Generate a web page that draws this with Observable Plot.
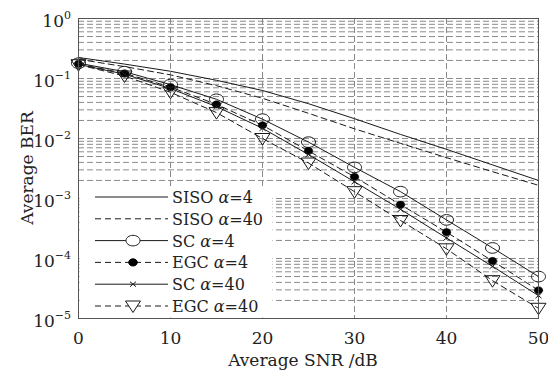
<!DOCTYPE html>
<html>
<head>
<meta charset="utf-8">
<script src="https://cdn.jsdelivr.net/npm/d3@7"></script>
<script src="https://cdn.jsdelivr.net/npm/@observablehq/plot@0.6"></script>
<style>
  html, body { margin: 0; padding: 0; background: #fff; }
  #chart { width: 548px; height: 370px; }
</style>
</head>
<body>
<div id="chart"></div>
<script>
// ---- data ----
const snr = [0, 5, 10, 15, 20, 25, 30, 35, 40, 45, 50];
const sisoA4  = [0.224, 0.174, 0.132, 0.0933, 0.0631, 0.038, 0.0214, 0.0117, 0.0066, 0.00363, 0.0020];
const sisoA40 = [0.209, 0.158, 0.115, 0.0759, 0.0468, 0.0263, 0.0145, 0.0083, 0.0048, 0.0028, 0.00166];
const scA4    = [0.18, 0.13, 0.079, 0.045, 0.021, 0.0087, 0.0033, 0.0013, 0.00044, 0.00015, 0.00005];
const egcA4   = [0.175, 0.122, 0.072, 0.037, 0.0166, 0.0062, 0.0023, 0.00079, 0.000275, 0.000091, 0.0000295];
const scA40   = [0.172, 0.118, 0.068, 0.034, 0.0148, 0.0054, 0.0019, 0.00066, 0.00022, 0.000074, 0.000024];
const egcA40  = [0.17, 0.11, 0.059, 0.027, 0.010, 0.0039, 0.0013, 0.00043, 0.000145, 0.0000427, 0.0000148];

const xTicks = [0, 10, 20, 30, 40, 50];
const yTicks = [1, 1e-1, 1e-2, 1e-3, 1e-4, 1e-5];
const yTickExp = ["0", "\u22121", "\u22122", "\u22123", "\u22124", "\u22125"];
const xGrid = [10, 20, 30, 40];
const seriesNames = ["SISO", "SISO", "SC", "EGC", "SC", "EGC"];
const seriesAlpha = ["4", "40", "4", "4", "40", "40"];

// minor/major horizontal grid (log decades)
const yGrid = [];
for (let k = -5; k < 0; k++) for (let m = 1; m <= 9; m++) yGrid.push(m * Math.pow(10, k));
yGrid.push(1);

// ---- custom marker symbols ----
function ellipseSym(rx, ry) {
  const k = 0.5523;
  return { draw(ctx) {
    ctx.moveTo(rx, 0);
    ctx.bezierCurveTo(rx, k * ry, k * rx, ry, 0, ry);
    ctx.bezierCurveTo(-k * rx, ry, -rx, k * ry, -rx, 0);
    ctx.bezierCurveTo(-rx, -k * ry, -k * rx, -ry, 0, -ry);
    ctx.bezierCurveTo(k * rx, -ry, rx, -k * ry, rx, 0);
    ctx.closePath();
  }};
}
const openEllipse = ellipseSym(7, 5.3);
const dotEllipse = ellipseSym(4.3, 3.6);
const downTri = { draw(ctx) {
  ctx.moveTo(-7.5, -5); ctx.lineTo(7.5, -5); ctx.lineTo(0, 6.5); ctx.closePath();
}};
const xMark = { draw(ctx) {
  ctx.moveTo(-3, -2.5); ctx.lineTo(3, 2.5); ctx.moveTo(-3, 2.5); ctx.lineTo(3, -2.5);
}};

const rows = (ys) => snr.map((x, i) => ({ x, y: ys[i] }));
const ink = "#1a1a1a";
const dash = "6,4";

const chart = Plot.plot({
  width: 548,
  height: 370,
  marginLeft: 78,
  marginRight: 10,
  marginTop: 18,
  marginBottom: 52,
  style: { fontFamily: "DejaVu Serif", fontSize: "17px", color: "#222", background: "#fff" },
  x: { domain: [0, 50], ticks: xTicks, tickSize: 0, tickPadding: 13, label: null },
  y: { type: "log", domain: [1e-5, 1], axis: null },
  marks: [
    Plot.ruleY(yGrid, { stroke: "#8a8a8a", strokeWidth: 1, strokeDasharray: "6,3" }),
    Plot.ruleX(xGrid, { stroke: "#8a8a8a", strokeWidth: 1, strokeDasharray: "6,3" }),
    Plot.line(rows(sisoA4), { x: "x", y: "y", stroke: ink, strokeWidth: 1 }),
    Plot.line(rows(sisoA40), { x: "x", y: "y", stroke: ink, strokeWidth: 1, strokeDasharray: dash }),
    Plot.line(rows(scA4), { x: "x", y: "y", stroke: ink, strokeWidth: 1 }),
    Plot.line(rows(egcA4), { x: "x", y: "y", stroke: ink, strokeWidth: 1, strokeDasharray: dash }),
    Plot.line(rows(scA40), { x: "x", y: "y", stroke: ink, strokeWidth: 1 }),
    Plot.line(rows(egcA40), { x: "x", y: "y", stroke: ink, strokeWidth: 1, strokeDasharray: dash }),
    Plot.dot(rows(scA4), { x: "x", y: "y", symbol: openEllipse, fill: "none", stroke: ink, strokeWidth: 1 }),
    Plot.dot(rows(egcA4), { x: "x", y: "y", symbol: dotEllipse, fill: "#000", stroke: "#000", strokeWidth: 0.5 }),
    Plot.dot(rows(scA40), { x: "x", y: "y", symbol: xMark, fill: "none", stroke: ink, strokeWidth: 1 }),
    Plot.dot(rows(egcA40), { x: "x", y: "y", symbol: downTri, fill: "none", stroke: ink, strokeWidth: 1 }),
    Plot.frame({ stroke: "#555", strokeWidth: 1 })
  ]
});
document.getElementById("chart").appendChild(chart);

// ---- y tick labels (10^k) and axis titles ----
const svg = d3.select(chart);
const ys = chart.scale("y");
const labels = svg.append("g").attr("font-family", "DejaVu Serif").attr("fill", "#222");
yTicks.forEach((v, i) => {
  const t = labels.append("text")
    .attr("x", 71).attr("y", ys.apply(v) + 9)
    .attr("text-anchor", "end").attr("font-size", 17);
  t.append("tspan").text("10");
  t.append("tspan").attr("dy", -8).attr("font-size", 11).text(yTickExp[i]);
});
labels.append("text")
  .attr("x", 303).attr("y", 366).attr("text-anchor", "middle").attr("font-size", 17)
  .text("Average SNR /dB");
labels.append("text")
  .attr("transform", `translate(33,${ys.apply(Math.pow(10, -2.5))}) rotate(-90)`)
  .attr("text-anchor", "middle").attr("font-size", 17)
  .text("Average BER");

// ---- legend (inside the plot, lower-left) ----
const leg = svg.append("g").attr("font-family", "DejaVu Serif").attr("text-anchor", "start");
leg.append("rect").attr("x", 79.5).attr("y", 187).attr("width", 193).attr("height", 130.5).attr("fill", "#fff");
const legSyms = [null, null, openEllipse, dotEllipse, xMark, downTri];
const legDash = [null, dash, null, dash, null, dash];
const legFill = ["none", "none", "none", "#000", "none", "none"];
seriesNames.forEach((name, i) => {
  const y = 197 + i * 21.8;
  leg.append("line").attr("x1", 95).attr("x2", 168).attr("y1", y).attr("y2", y)
    .attr("stroke", ink).attr("stroke-width", 1)
    .attr("stroke-dasharray", legDash[i]);
  if (legSyms[i]) {
    leg.append("path").attr("transform", `translate(133,${y})`)
      .attr("d", d3.symbol(legSyms[i], 64)())
      .attr("fill", legFill[i] === "none" ? "#fff" : legFill[i])
      .attr("stroke", legFill[i] === "none" ? ink : "#000").attr("stroke-width", 1);
  }
  const t = leg.append("text").attr("x", 172).attr("y", y + 6).attr("font-size", 16)
    .attr("fill", "#222").attr("text-anchor", "start");
  t.append("tspan").text(name + " ");
  t.append("tspan").attr("font-style", "italic").text("\u03b1");
  t.append("tspan").text("=" + seriesAlpha[i]);
});
</script>
</body>
</html>
